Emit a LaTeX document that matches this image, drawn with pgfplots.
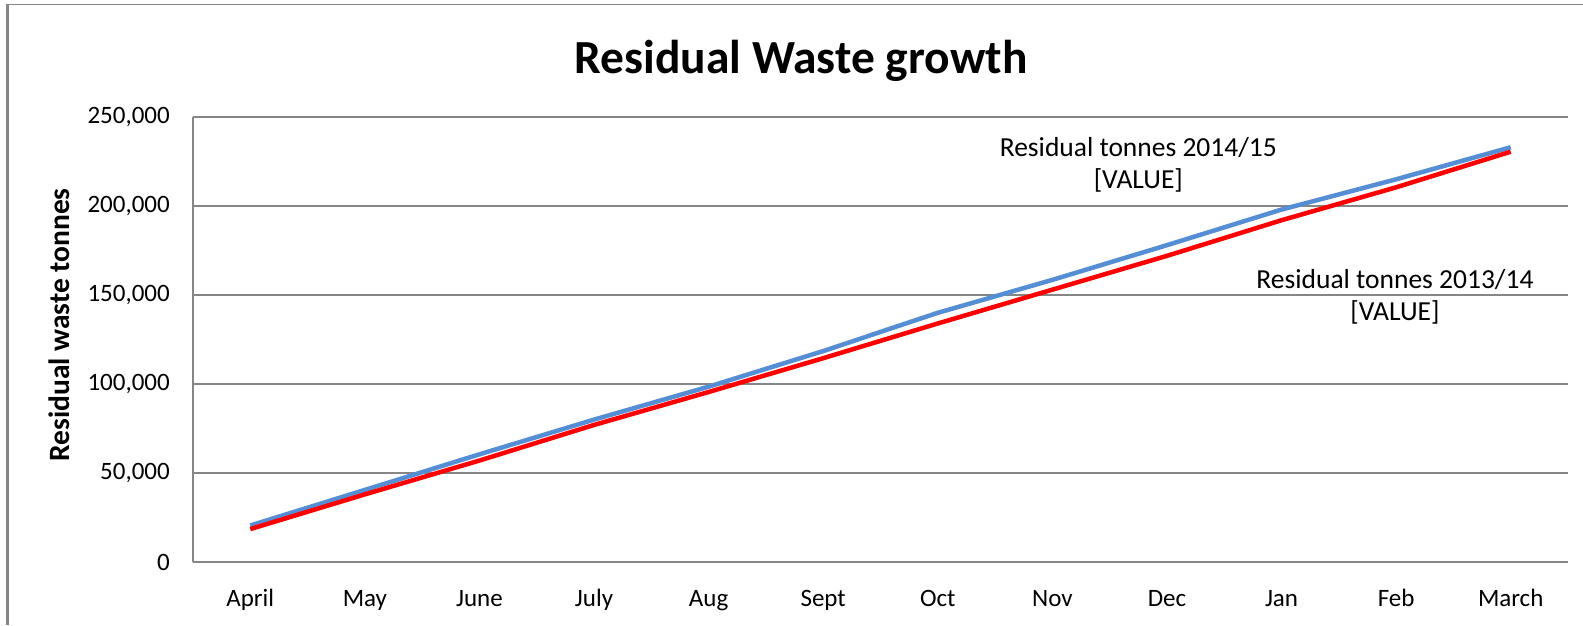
\documentclass[border=0pt]{standalone}
\usepackage{fontspec}
\setmainfont{Carlito}
\usepackage{pgfplots}
\pgfplotsset{compat=1.18}
\definecolor{blueline}{RGB}{85,142,213}
\definecolor{redline}{RGB}{255,0,0}
\definecolor{gridgray}{RGB}{134,134,134}
\begin{document}
\begin{tikzpicture}[x=1pt,y=1pt]
\useasboundingbox (0,0) rectangle (1583,-625);
\fill[white] (0,0) rectangle (1583,-625);
% frame
\draw[gridgray, line width=3pt] (7,-4) -- (7,-625);
\draw[gridgray, line width=1.2pt] (6,-4.5) -- (1583,-4.5);
% title
\node[font=\fontsize{47.5}{54}\selectfont\bfseries] at (801,-61) {Residual Waste growth};
% y label
\node[font=\fontsize{29.5}{35}\selectfont\bfseries, rotate=90] at (59,-325) {Residual waste tonnes};
\begin{axis}[
  at={(193pt,-562pt)}, anchor=south west,
  scale only axis, width=1375pt, height=445pt,
  xmin=-0.5, xmax=11.5, ymin=0, ymax=250000,
  xtick={0,...,11},
  xticklabels={April,May,June,July,Aug,Sept,Oct,Nov,Dec,Jan,Feb,March},
  ytick={0,50000,...,250000},
  scaled y ticks=false,
  /pgf/number format/.cd, fixed, 1000 sep={,}, assume math mode=true,
  /pgfplots/.cd,
  axis x line*=bottom, axis y line*=left,
  axis line style={gridgray, line width=1.2pt, -},
  major tick length=0pt,
  ymajorgrids, grid style={gridgray, line width=1.2pt},
  tick label style={font=\fontsize{25}{30}\selectfont},
  xticklabel style={anchor=base, inner sep=0pt, yshift=-44pt},
  yticklabel style={anchor=east, inner sep=0pt, xshift=-23pt},
  clip=false,
]
\addplot[blueline, line width=4.5pt] coordinates {
  (0,20500) (1,40500) (2,60500) (3,80000) (4,98500) (5,118500)
  (6,140000) (7,158500) (8,178000) (9,198000) (10,215000) (11,233000)};
\addplot[redline, line width=4.5pt] coordinates {
  (0,18500) (1,38000) (2,57000) (3,77000) (4,95500) (5,114500)
  (6,134000) (7,153000) (8,172000) (9,192000) (10,210500) (11,230500)};
\node[font=\fontsize{27.5}{32}\selectfont, align=center] at (axis cs:7.75,223000) {Residual tonnes 2014/15\\{}[VALUE]};
\node[font=\fontsize{27.5}{32}\selectfont, align=center] at (axis cs:9.99,148900) {Residual tonnes 2013/14\\{}[VALUE]};
\end{axis}
\end{tikzpicture}
\end{document}
